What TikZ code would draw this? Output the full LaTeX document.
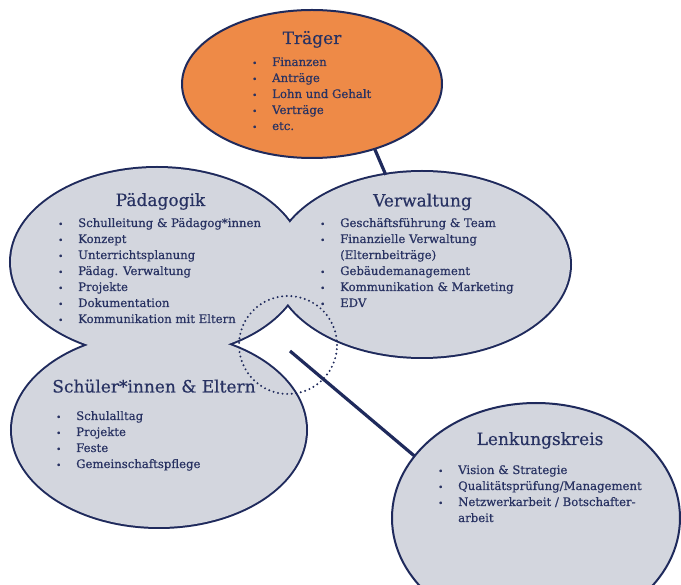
\documentclass[tikz,border=0pt]{standalone}
\usepackage{fontspec}
\setmainfont{DejaVu Serif}[FakeBold=0.5]
\usetikzlibrary{shapes.geometric}
\definecolor{navy}{HTML}{1F2A5C}
\definecolor{txt}{HTML}{283262}
\definecolor{blobgray}{HTML}{D3D6DE}
\definecolor{orangefill}{HTML}{EE8A47}
\newcommand{\bul}{{\fontsize{8.5}{8.5}\selectfont\textbullet}}
\newcommand{\itemlist}[1]{\begin{tabular}[t]{@{}p{20pt}@{}l@{}}#1\end{tabular}}
\begin{document}
\begin{tikzpicture}[x=1pt,y=-1pt,
  ell/.style={ellipse, inner sep=0pt, outer sep=0pt},
  rim/.style={draw=navy, line width=2pt},
  unionrim/.style={draw=navy, line width=4pt, fill=blobgray},
  link/.style={draw=navy, line width=3.2pt},
  dots/.style={draw=navy, line width=2.2pt, line cap=round, dash pattern=on 0pt off 4.6pt},
  title/.style={text=txt, font=\fontsize{17}{20}\selectfont, inner sep=0pt, anchor=base},
  list/.style={text=txt, font=\fontsize{11.7}{16}\selectfont, inner sep=0pt, anchor=base west}]
\useasboundingbox (0,0) rectangle (681,585);

% Träger
\node[ell, rim, fill=orangefill, minimum width=260pt, minimum height=148pt] (trager) at (312,84) {};

% union of three ellipses
\node[ell, unionrim, minimum width=292pt, minimum height=188pt] (paed) at (157,262) {};
\node[ell, unionrim, minimum width=296pt, minimum height=185pt] (verw) at (422,264.5) {};
\node[ell, unionrim, minimum width=294pt, minimum height=194pt] (schuel) at (159,430) {};
\fill[blobgray] (paed.center) ellipse[x radius=146, y radius=94];
\fill[blobgray] (verw.center) ellipse[x radius=148, y radius=92.5];
\fill[blobgray] (schuel.center) ellipse[x radius=147, y radius=97];

% Lenkungskreis
\node[ell, rim, fill=blobgray, minimum width=288pt, minimum height=230pt] (lenk) at (536,518) {};

% dotted focus circle
\node[circle, dots, minimum size=98pt, inner sep=0pt] (focus) at (288,345) {};

% connectors
\draw[link] (trager.-46) -- (verw.112);
\coordinate (gap) at (290,351);
\draw[link] (gap) -- (lenk.153.6);

% texts
\node[title] (t1) at (312,44) {Träger};
\node[list] (l1) at (252,66) {\itemlist{\bul & Finanzen\\ \bul & Anträge\\ \bul & Lohn und Gehalt\\ \bul & Verträge\\ \bul & etc.}};

\node[title] (t2) at (160.5,206) {Pädagogik};
\node[list] (l2) at (58,227) {\itemlist{\bul & Schulleitung \& Pädagog*innen\\ \bul & Konzept\\ \bul & Unterrichtsplanung\\ \bul & Pädag. Verwaltung\\ \bul & Projekte\\ \bul & Dokumentation\\ \bul & Kommunikation mit Eltern}};

\node[title] (t3) at (422.5,206.5) {Verwaltung};
\node[list] (l3) at (320,227) {\itemlist{\bul & Geschäftsführung \& Team\\ \bul & Finanzielle Verwaltung\\ & (Elternbeiträge)\\ \bul & Gebäudemanagement\\ \bul & Kommunikation \& Marketing\\ \bul & EDV}};

\node[title] (t4) at (154,392.5) {Schüler*innen \& Eltern};
\node[list] (l4) at (56,420) {\itemlist{\bul & Schulalltag\\ \bul & Projekte\\ \bul & Feste\\ \bul & Gemeinschaftspflege}};

\node[title] (t5) at (540,445) {Lenkungskreis};
\node[list] (l5) at (438,474) {\itemlist{\bul & Vision \& Strategie\\ \bul & Qualitätsprüfung/Management\\ \bul & Netzwerkarbeit / Botschafter-\\ & arbeit}};
\end{tikzpicture}
\end{document}
